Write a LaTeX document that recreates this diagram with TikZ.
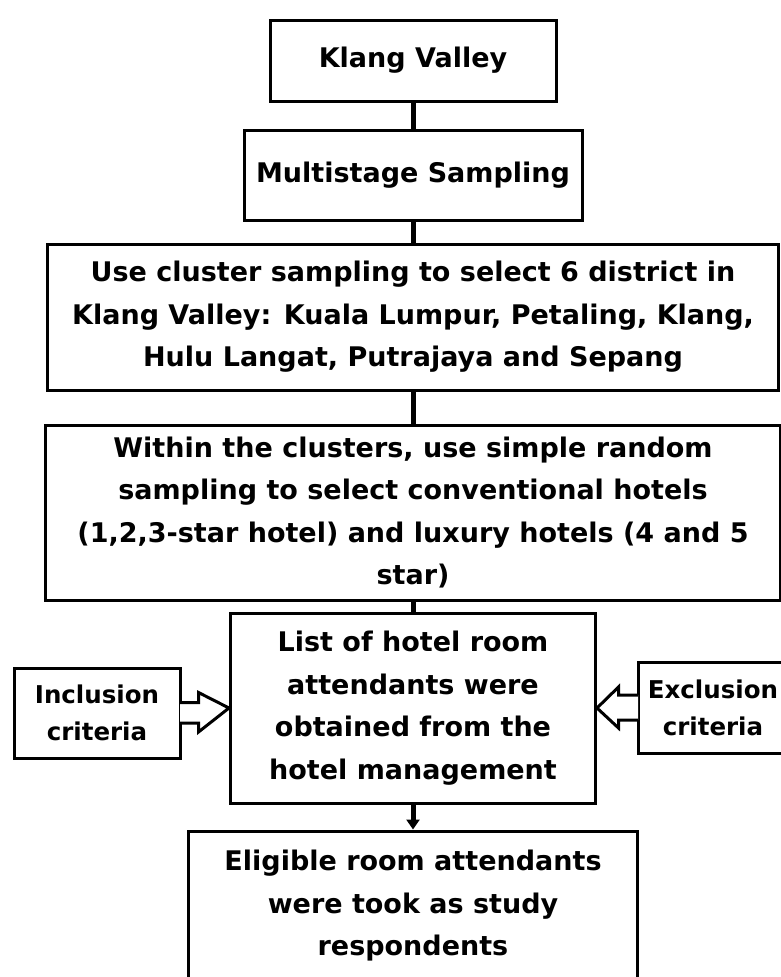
\documentclass[tikz,border=0pt]{standalone}
\usepackage{fontspec}
\setmainfont{DejaVu Sans}
\usetikzlibrary{calc,arrows.meta}
\begin{document}
\begin{tikzpicture}[x=1pt,y=-1pt,
  box/.style={draw, line width=3pt, align=center, inner sep=0pt,
    font=\bfseries\fontsize{27}{42.5}\selectfont},
  side/.style={box, font=\bfseries\fontsize{24.5}{37}\selectfont},
  link/.style={line width=5pt}]
\useasboundingbox (0,0) rectangle (781,977);

\node[box, minimum width=286, minimum height=81] (kv) at (413,60.5) {Klang Valley};
\node[box, minimum width=338, minimum height=90] (ms) at (413,175) {Multistage Sampling};
\node[box, minimum width=731, minimum height=146] (cs) at (413,317)
  {Use cluster sampling to select 6 district in\\Klang Valley: Kuala Lumpur, Petaling, Klang,\\Hulu Langat, Putrajaya and Sepang};
\node[box, minimum width=735, minimum height=175] (rs) at (413,512.5)
  {Within the clusters, use simple random\\sampling to select conventional hotels\\(1,2,3-star hotel) and luxury hotels (4 and 5\\star)};
\node[box, minimum width=365, minimum height=190] (list) at (413,708)
  {List of hotel room\\attendants were\\obtained from the\\hotel management};
\node[box, minimum width=449, minimum height=150] (elig) at (413,906)
  {Eligible room attendants\\were took as study\\respondents};
\node[side, minimum width=166, minimum height=90] (incl) at (97,713) {Inclusion\\criteria};
\node[side, minimum width=150, minimum height=91] (excl) at (713,707.5) {Exclusion\\criteria};

\draw[link] (kv) -- (ms);
\draw[link] (ms) -- (cs);
\draw[link] (cs) -- (rs);
\draw[link] (rs) -- (list);
\draw[link, -{Triangle[width=13pt,length=10pt]}] (list) -- (elig);

\draw[line width=3pt, fill=white] ($(incl.east)+(-1.5,-10.5)$) -- ++(18.5,0) -- ++(0,-10)
  -- (list.west) -- ($(incl.east)+(17,19)$) -- ++(0,-9) -- ($(incl.east)+(-1.5,10)$);
\draw[line width=3pt, fill=white] ($(excl.west)+(1.5,-12.5)$) -- ++(-19.5,0) -- ++(0,-8)
  -- (list.east) -- ($(excl.west)+(-18,20.5)$) -- ++(0,-8) -- ($(excl.west)+(1.5,12.5)$);
\end{tikzpicture}
\end{document}
